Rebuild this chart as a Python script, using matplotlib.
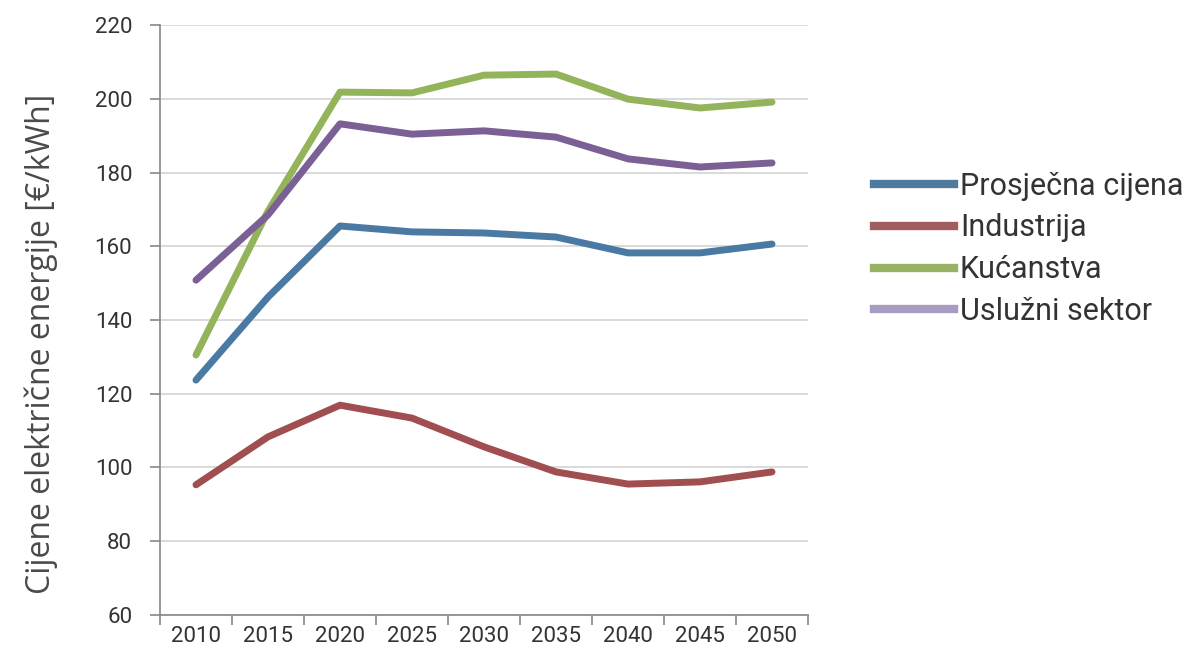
import numpy as np
from matplotlib import pyplot as plt
from matplotlib.lines import Line2D

years = ['2010', '2015', '2020', '2025', '2030', '2035', '2040', '2045', '2050']
prosjecna = [123.7, 146.2, 165.5, 163.9, 163.6, 162.5, 158.2, 158.2, 160.6]
industrija = [95.3, 108.3, 116.9, 113.4, 105.6, 98.8, 95.5, 96.1, 98.8]
kucanstva = [130.5, 169.5, 201.8, 201.6, 206.4, 206.7, 199.9, 197.5, 199.1]
usluzni = [150.8, 168.5, 193.2, 190.4, 191.3, 189.6, 183.7, 181.5, 182.6]

names = ['Prosječna cijena', 'Industrija', 'Kućanstva', 'Uslužni sektor']
series = [prosjecna, industrija, kucanstva, usluzni]
line_colors = ['#4a7aa4', '#a14e50', '#93b45b', '#7b6096']
legend_colors = ['#4e7a9e', '#a25e5e', '#98b264', '#a89cc2']

plt.rcParams['font.family'] = ['Roboto', 'DejaVu Sans']

fig = plt.figure(figsize=(12.01, 6.55), dpi=100)
ax = fig.add_axes([0.1332, 0.0611, 0.5396, 0.9007])

x = np.arange(len(years))
for vals, col in zip(series, line_colors):
    ax.plot(x, vals, color=col, lw=5, solid_capstyle='round', solid_joinstyle='round')

ax.set_xlim(-0.5, len(years) - 0.5)
ax.set_ylim(60, 220)
ax.set_yticks(range(60, 221, 20))
ax.set_xticks(x)
ax.set_xticklabels(years)
ax.set_xticks(np.arange(-0.5, len(years), 1), minor=True)
ax.tick_params(axis='x', which='major', length=0, pad=8, labelsize=16, colors='#333333')
ax.tick_params(axis='x', which='minor', length=7, width=1.2, color='#888888', direction='out')
ax.tick_params(axis='y', length=7, width=1.2, color='#888888', labelsize=16, labelcolor='#333333', pad=13)

ax.grid(axis='y', color='#d4d4d4', lw=1.2)
ax.set_axisbelow(True)
for s in ['top', 'right']:
    ax.spines[s].set_visible(False)
for s in ['left', 'bottom']:
    ax.spines[s].set_color('#888888')
    ax.spines[s].set_linewidth(1.2)

ax.set_ylabel('Cijene električne energije [€/kWh]', fontsize=23, color='#4a4a4a',
              family=['Open Sans', 'DejaVu Sans'], labelpad=18)
ax.yaxis.set_label_coords(-0.158, 0.46)

handles = [Line2D([0], [0], color=c, lw=6) for c in legend_colors]
fig.legend(handles, names, loc='upper left', bbox_to_anchor=(0.705, 0.78), frameon=False,
           fontsize=22, handlelength=2.6, handletextpad=0.2, labelspacing=0.42,
           labelcolor='#333333')

fig.savefig('out.png', dpi=100)
